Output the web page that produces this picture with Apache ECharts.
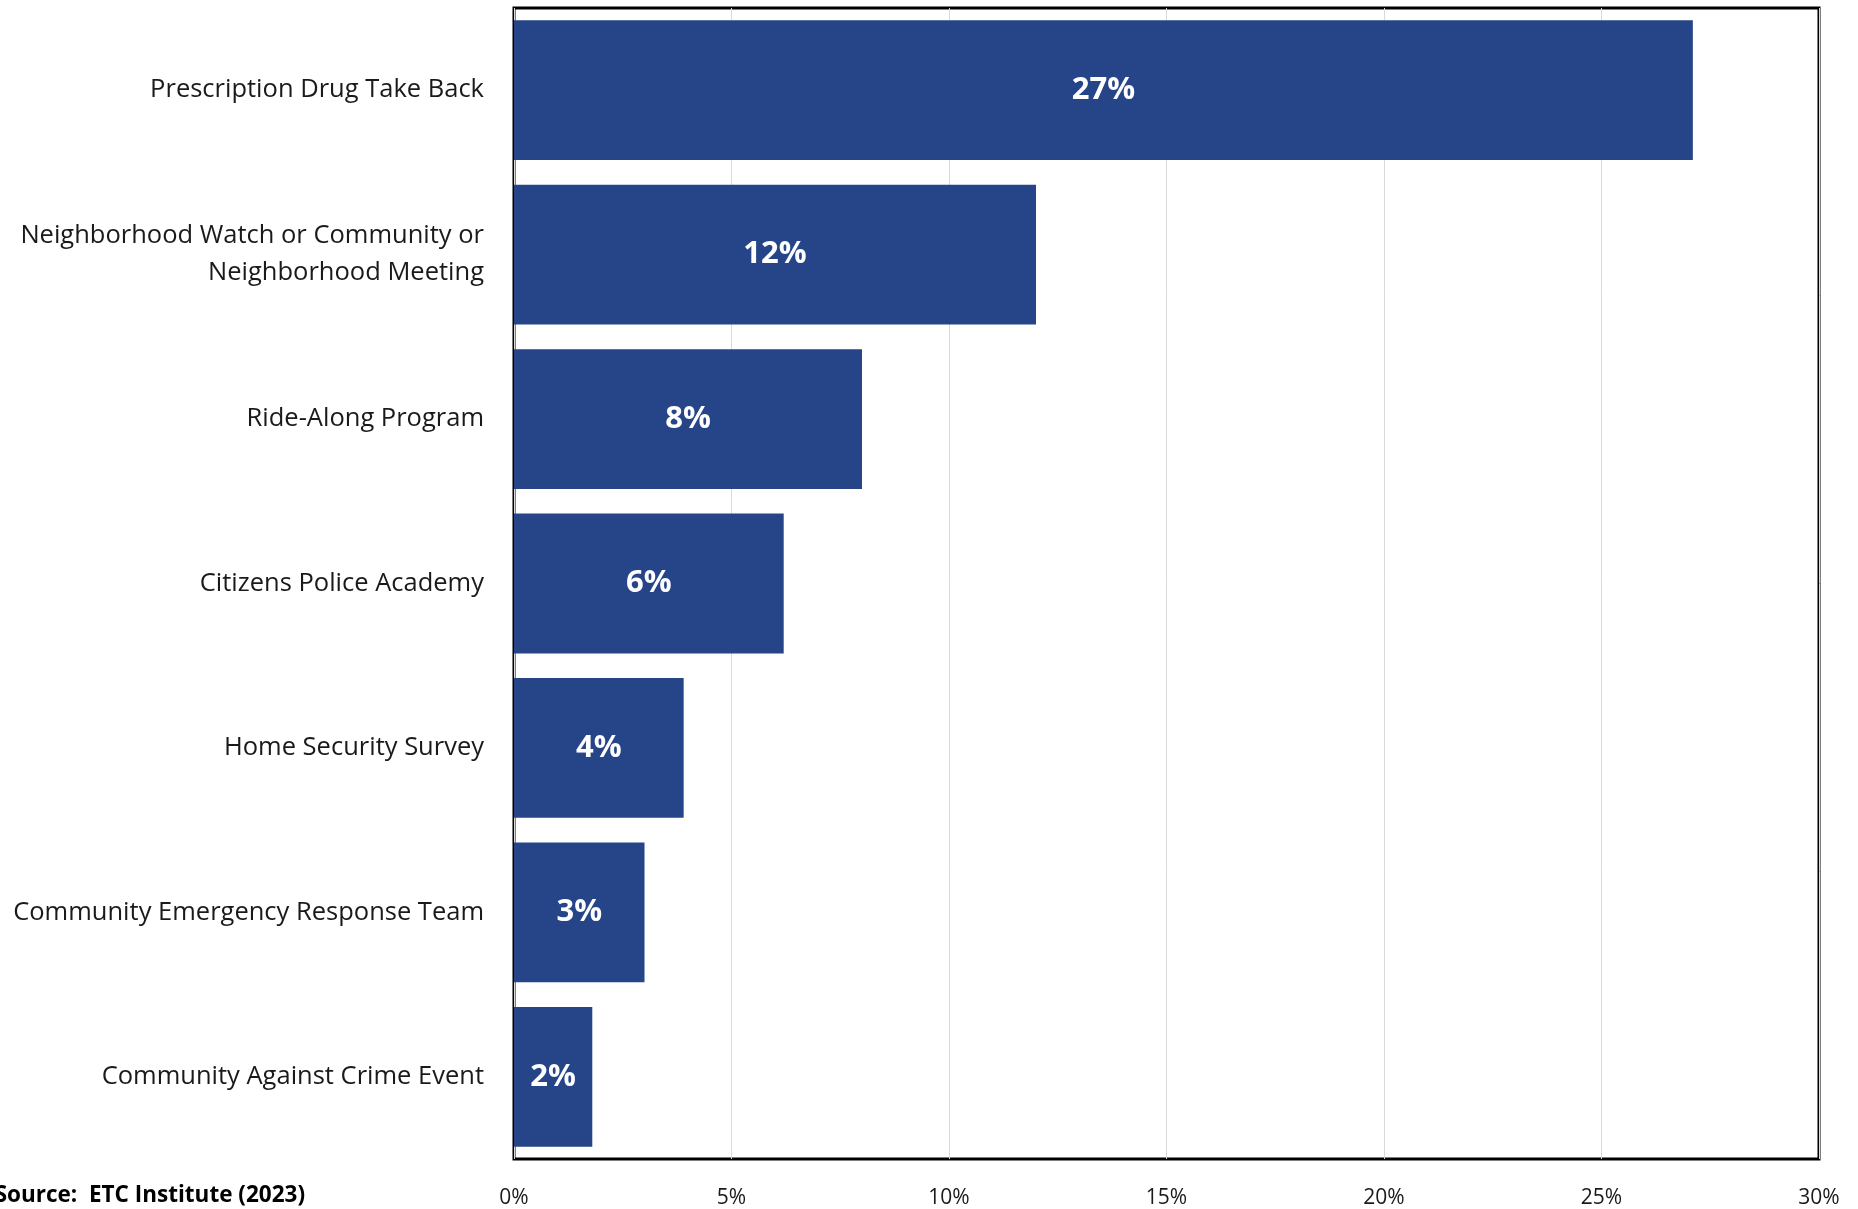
<!DOCTYPE html>
<html>
<head>
<meta charset="utf-8">
<title>Program participation</title>
<script src="https://cdn.jsdelivr.net/npm/echarts@6/dist/echarts.min.js"></script>
<style>
  html, body { margin: 0; padding: 0; background: #ffffff; }
  #chart { width: 1858px; height: 1209px; }
</style>
</head>
<body>
<div id="chart"></div>
<script>
// Programs, listed top to bottom
const programs = [
  'Prescription Drug Take Back',
  'Neighborhood Watch or Community or\nNeighborhood Meeting',
  'Ride-Along Program',
  'Citizens Police Academy',
  'Home Security Survey',
  'Community Emergency Response Team',
  'Community Against Crime Event'
];
// Share of respondents (%)
const shares = [27.1, 12.0, 8.0, 6.2, 3.9, 3.0, 1.8];
// Axis range
const axisMin = 0;
const axisMax = 30;
const axisStep = 5;
const sourceNote = 'Source:  ETC Institute (2023)';

const FONT = '"Open Sans", "Noto Sans", sans-serif';
const chart = echarts.init(document.getElementById('chart'), null, { renderer: 'canvas' });

chart.setOption({
  animation: false,
  backgroundColor: '#ffffff',
  grid: {
    left: 514, top: 8, width: 1305, height: 1152,
    show: true, borderColor: '#000000', borderWidth: 3, backgroundColor: 'transparent'
  },
  xAxis: {
    type: 'value',
    min: axisMin, max: axisMax, interval: axisStep,
    axisLine: { show: false },
    axisTick: { show: false },
    splitLine: { show: true, lineStyle: { color: '#D9D9D9', width: 1 } },
    axisLabel: {
      formatter: '{value}%', margin: 29,
      fontFamily: FONT, fontSize: 21, color: '#1a1a1a'
    }
  },
  yAxis: {
    type: 'category',
    data: programs,
    inverse: true,
    axisLine: { show: false },
    axisTick: { show: false },
    splitLine: { show: false },
    axisLabel: {
      margin: 30, align: 'right',
      padding: [4, 0, 0, 0],
      fontFamily: FONT, fontSize: 25.5, lineHeight: 37, color: '#1a1a1a'
    }
  },
  series: [{
    type: 'bar',
    data: shares,
    barCategoryGap: '15%',
    itemStyle: { color: '#264589' },
    label: {
      show: true, position: 'inside',
      formatter: p => Math.round(p.value) + '%',
      fontFamily: FONT, fontWeight: 'bold', fontSize: 31, color: '#ffffff'
    }
  }],
  graphic: [{
    type: 'text',
    right: 1858 - 305,
    top: 1184,
    style: {
      text: sourceNote,
      fontFamily: FONT, fontWeight: 'bold', fontSize: 22.5, fill: '#000000'
    }
  }]
});
</script>
</body>
</html>
